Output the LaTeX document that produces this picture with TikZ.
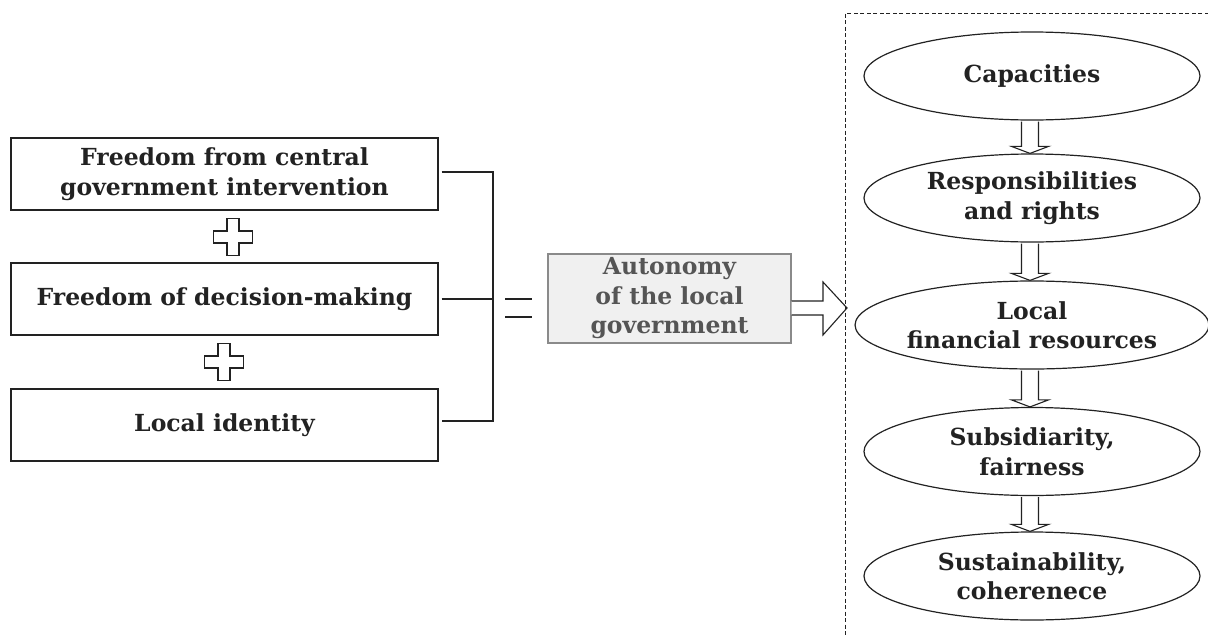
\documentclass[tikz,border=0pt]{standalone}
\usepackage{fontspec}
\setmainfont{DejaVu Serif}
\usetikzlibrary{shapes.geometric,calc}
\definecolor{ink}{HTML}{222222}
\definecolor{autotext}{HTML}{555555}
\definecolor{autofill}{HTML}{F0F0F0}
\definecolor{autoline}{HTML}{8A8A8A}
\begin{document}
\begin{tikzpicture}[x=1pt,y=-1pt,
  txt/.style={font=\bfseries\fontsize{23.5}{29.5}\selectfont},
  lbox/.style={txt,draw=ink,line width=1.4pt,minimum width=427pt,minimum height=72pt,inner sep=0pt,align=center,text=ink},
  autobox/.style={txt,draw=autoline,fill=autofill,line width=1.1pt,minimum width=243pt,minimum height=89pt,inner sep=0pt,align=center,text=autotext},
  ell/.style={txt,draw=ink,line width=1.2pt,ellipse,minimum width=336pt,minimum height=88pt,inner sep=0pt,align=center,text=ink},
  hollow/.style={draw=ink,line width=1.1pt,fill=white,line join=miter},
  link/.style={draw=ink,line width=1.3pt},
  frame/.style={draw=ink,line width=1pt,dash pattern=on 4pt off 2.5pt},
]
\useasboundingbox (0,0) rectangle (1208,635);
\fill[white] (0,0) rectangle (1208,635);

% left boxes
\node[lbox] (b1) at (224.5,174) {Freedom from central\\government intervention};
\node[lbox] (b2) at (224.5,299) {Freedom of decision-making};
\node[lbox] (b3) at (224.5,425) {Local identity};

% plus signs
\foreach \cx/\cy in {233/237, 224/362}{
  \draw[hollow] (\cx-6,\cy-18.5) -- (\cx+6,\cy-18.5) -- (\cx+6,\cy-6) -- (\cx+19.5,\cy-6)
    -- (\cx+19.5,\cy+6) -- (\cx+6,\cy+6) -- (\cx+6,\cy+18.5) -- (\cx-6,\cy+18.5)
    -- (\cx-6,\cy+6) -- (\cx-19.5,\cy+6) -- (\cx-19.5,\cy-6) -- (\cx-6,\cy-6) -- cycle;
}

% bracket
\coordinate (bt) at (493,172);
\coordinate (bb) at (493,421);
\coordinate (bm) at (493,299);
\draw[link] ([xshift=3pt]b1.east |- bt) -- (bt) -- (bb) -- ([xshift=3pt]b3.east |- bb);
\draw[link] ([xshift=3pt]b2.east |- bm) -- (bm);

% equals sign
\coordinate (eq1a) at (505,299); \coordinate (eq1b) at (532,299);
\coordinate (eq2a) at (505,317); \coordinate (eq2b) at (532,317);
\draw[link] (eq1a) -- (eq1b);
\draw[link] (eq2a) -- (eq2b);

% autonomy box
\node[autobox] (auto) at (669.5,298.5) {Autonomy\\of the local\\government};

% big hollow arrow
\coordinate (tip) at (847,308);
\draw[hollow] (auto.east |- 0,301) -- (823,301) -- (823,282) -- (tip) -- (823,335) -- (823,315) -- (auto.east |- 0,315);

% dashed frame
\draw[frame] (1215,13) -- (845,13) -- (845,645);

% ellipses
\node[ell] (e1) at (1032,76) {Capacities};
\node[ell] (e2) at (1032,198) {Responsibilities\\and rights};
\node[ell] (e3) at (1032,325) {Local\\financial resources};
\node[ell] (e4) at (1032,451.5) {Subsidiarity,\\fairness};
\node[ell] (e5) at (1032,576) {Sustainability,\\coherenece};

% down hollow arrows
\foreach \a/\b in {e1/e2,e2/e3,e3/e4,e4/e5}{
  \draw[hollow] let \p1=(\a.south), \p2=(\b.north) in
    ({\x1-10.5pt},{\y1-1pt}) -- ({\x1-10.5pt},{\y2+7pt}) -- ({\x1-20.5pt},{\y2+7pt}) -- ({\x1-2pt},{\y2}) --
    ({\x1+16.5pt},{\y2+7pt}) -- ({\x1+6.5pt},{\y2+7pt}) -- ({\x1+6.5pt},{\y1-1pt});
}
\end{tikzpicture}
\end{document}
